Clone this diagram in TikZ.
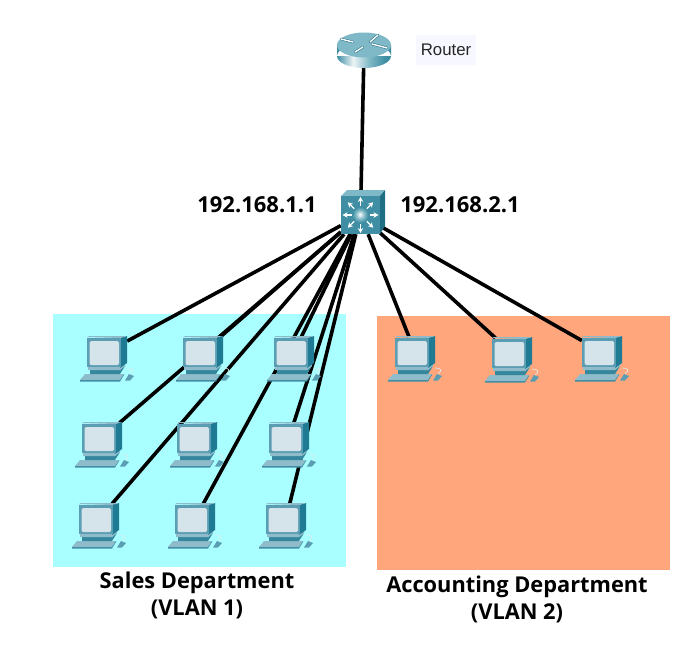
\documentclass[tikz,border=0pt]{standalone}
\usepackage{fontspec}
\setmainfont{Open Sans}
\newfontfamily\routerfont{Liberation Sans}
\usepackage{xcolor}
\usetikzlibrary{positioning,arrows.meta}
\definecolor{salesblue}{HTML}{A9FFFF}
\definecolor{acctorange}{HTML}{FFA67C}
\definecolor{pcframe}{HTML}{5B9DB3}
\definecolor{pcdark}{HTML}{1F7A93}
\definecolor{pclight}{HTML}{8FBCCB}
\definecolor{pcscreen}{HTML}{D5E3EA}
\definecolor{swfront}{HTML}{3F8EA3}
\definecolor{swtop}{HTML}{7FB8C6}
\definecolor{swside}{HTML}{1F6E84}
\pgfdeclarehorizontalshading{routerbody}{100bp}{color(0bp)=(swfront); color(25bp)=(swfront); color(40bp)=(white!85!swtop); color(55bp)=(swtop); color(70bp)=(swfront); color(100bp)=(swside)}
\pgfdeclareradialshading{swball}{\pgfpoint{-2bp}{2bp}}{color(0bp)=(white); color(14bp)=(swtop); color(25bp)=(swfront); color(50bp)=(swfront)}
\tikzstyle{link} = [line width=3.6pt,black]
\tikzstyle{pcspot} = [inner sep=0pt,minimum width=40pt,minimum height=30pt]
\tikzstyle{vlan} = [font=\bfseries\fontsize{21.8}{27}\selectfont,align=center]
\tikzstyle{ipaddr} = [font=\bfseries\fontsize{22}{24}\selectfont]
\tikzset{pc/.pic={
  \begin{scope}[shift={(-20,-15)}]
  \fill[pclight] (-7,43)--(-2,37)--(37,37)--(33,43)--cycle;
  \fill[pcdark!70!pclight] (-7,43)--(33,43)--(37,37)--(37,38)--(33,44.5)--(-7,44.5)--cycle;
  \fill[pcdark!80!pclight] (3,33)--(33,33)--(38,29)--(33,37)--(3,37)--cycle;
  \fill[pclight] (1,30)--(34,30)--(38,26)--(38,29)--(33,33)--(1,33)--cycle;
  \fill[pcdark] (33,1)--(40,-1)--(40,26)--(33,31)--cycle;
  \fill[pcframe!70!white] (0,0)--(2,-1)--(40,-1)--(33,1)--cycle;
  \fill[pcframe] (0,1) rectangle (34,30);
  \fill[pcscreen,rounded corners=1.5pt] (2.5,4) rectangle (32,28);
  \fill[pcframe] (38,43.5)--(42,37)--(47,39)--(43,43.5)--cycle;
  \draw[white!70!pclight,line width=.6pt] (43,37) .. controls (48,33) and (46,31) .. (40,31);
  \end{scope}
}}
\begin{document}
\begin{tikzpicture}[x=1pt,y=-1pt]
\useasboundingbox (0,0) rectangle (693,659);
\fill[salesblue] (53,314) rectangle (346,567);
\fill[acctorange] (377,316) rectangle (670,570);
\node[inner sep=0pt,minimum width=54pt,minimum height=35pt] (router) at (364,50.5) {};
\node[inner sep=0pt,minimum width=39pt,minimum height=38pt] (sw) at (360.5,215) {};
\foreach \name/\x/\y in {pca/107/352,pcb/203/352,pcc/294/352,pcd/102/438,pce/197/438,pcf/289/438,pcg/99/519,pch/195/519,pci/286/519,pcj/415/352,pck/512/353,pcl/602/352}
  \node[pcspot] (\name) at (\x,\y) {};
% links go under the computers
\draw[link] (router) -- (sw);
\foreach \name in {pca,pcb,pcc,pcd,pcf,pcg,pch,pci,pcj,pck,pcl}
  \draw[link] (sw) -- (\name);
\foreach \name in {pca,pcb,pcc,pcd,pce,pcf,pcg,pch,pci,pcj,pck,pcl}
  \pic at (\name) {pc};
% router
\shade[shading=routerbody] (337,45) rectangle (391,56) (364,56) ellipse[x radius=27,y radius=12];
\fill[swtop] (364,45) ellipse[x radius=27,y radius=12.5];
\foreach \a/\b in {{341,39}/{353,42},{370,42}/{378,35},{355,52}/{363,47},{372,44}/{387,48}}{
  \draw[swside,line width=2.4pt,line cap=round] (\a) -- (\b);
  \draw[white,line width=1.4pt,line cap=round] (\a) -- (\b);
}
\fill[blue!3!white] (416,35) rectangle (476,65);
\node[font=\routerfont\fontsize{16.8}{18}\selectfont,text=black!85] (routerlabel) at (446,50) {Router};
% switch
\fill[swtop] (341,196)--(347,190)--(385,190)--(380,196)--cycle;
\fill[swside] (380,196)--(385,190)--(385,226)--(380,234)--cycle;
\fill[swfront] (341,196) rectangle (380,234);
\foreach \ang in {0,45,...,315}{
  \begin{scope}[shift={(sw.center)},rotate=\ang]
  \draw[white,line width=1.3pt,-{Stealth[length=5pt,width=5.5pt]}] (9,0) -- (18,0);
  \end{scope}
}
\shade[shading=swball] (sw.center) circle(8);
\node[ipaddr] (ipa) at (257,205) {192.168.1.1};
\node[ipaddr] (ipb) at (460,205) {192.168.2.1};
\node[vlan] (sales) at (197,595) {Sales Department\\(VLAN 1)};
\node[vlan] (acct) at (517,599) {Accounting Department\\(VLAN 2)};
\end{tikzpicture}
\end{document}
